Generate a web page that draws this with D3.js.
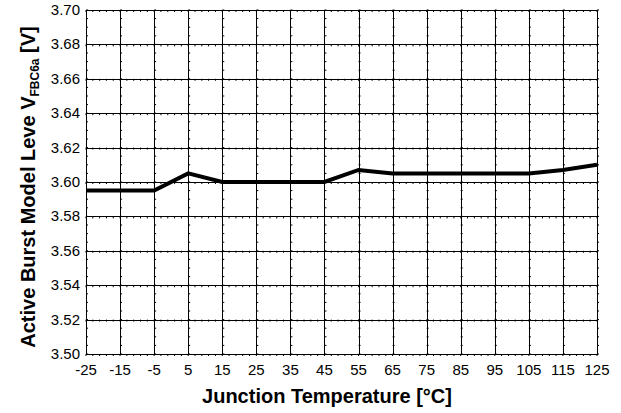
<!DOCTYPE html>
<html>
<head>
<meta charset="utf-8">
<script src="https://cdn.jsdelivr.net/npm/d3@7"></script>
<style>
body { margin: 0; background: #fff; }
text { font-family: "Liberation Sans", Arial, sans-serif; }
</style>
</head>
<body>
<div id="chart"></div>
<script>
// junction temperature (°C) and measured level (V)
var temps = [-25, -15, -5, 5, 15, 25, 35, 45, 55, 65, 75, 85, 95, 105, 115, 125];
var volts = [3.595, 3.595, 3.595, 3.605, 3.600, 3.600, 3.600, 3.600, 3.607, 3.605, 3.605, 3.605, 3.605, 3.605, 3.607, 3.610];
var yTicks = [3.50, 3.52, 3.54, 3.56, 3.58, 3.60, 3.62, 3.64, 3.66, 3.68, 3.70];

var width = 621, height = 413;
var margin = {top: 10, right: 24, bottom: 59, left: 86};
var w = width - margin.left - margin.right,
    h = height - margin.top - margin.bottom;

var svg = d3.select("#chart").append("svg")
  .attr("width", width)
  .attr("height", height);

var g = svg.append("g")
  .attr("transform", "translate(" + margin.left + "," + margin.top + ")");

var x = d3.scaleLinear().domain([-25, 125]).range([0, w]);
var y = d3.scaleLinear().domain([3.50, 3.70]).range([h, 0]);

// minor ticks along the grid lines
var minorX = d3.range(-25, 125.01, 2);
var minorY = d3.range(3.50, 3.7001, 0.005);

yTicks.forEach(function(v) {
  g.selectAll(null).data(minorX).enter().append("line")
    .attr("x1", function(d) { return x(d); })
    .attr("x2", function(d) { return x(d); })
    .attr("y1", y(v))
    .attr("y2", y(v) + 2)
    .attr("stroke", "#000")
    .attr("stroke-width", 1);
});
temps.forEach(function(t) {
  g.selectAll(null).data(minorY).enter().append("line")
    .attr("x1", x(t))
    .attr("x2", x(t) + 2)
    .attr("y1", function(d) { return y(d); })
    .attr("y2", function(d) { return y(d); })
    .attr("stroke", "#000")
    .attr("stroke-width", 1);
});

// grid
g.append("g")
  .attr("transform", "translate(0," + h + ")")
  .call(d3.axisBottom(x).tickValues(temps).tickSize(-h).tickFormat(""))
  .call(function(s) { s.select(".domain").remove(); })
  .selectAll("line").attr("stroke", "#000").attr("shape-rendering", "crispEdges");

g.append("g")
  .call(d3.axisLeft(y).tickValues(yTicks).tickSize(-w).tickFormat(""))
  .call(function(s) { s.select(".domain").remove(); })
  .selectAll("line").attr("stroke", "#000").attr("shape-rendering", "crispEdges");

g.append("rect")
  .attr("width", w).attr("height", h)
  .attr("fill", "none").attr("stroke", "#000")
  .attr("shape-rendering", "crispEdges");

// tick labels
g.selectAll(".xl").data(temps).enter().append("text")
  .attr("x", function(d) { return x(d); })
  .attr("y", h + 21)
  .attr("text-anchor", "middle")
  .style("font-size", "15px")
  .text(function(d) { return d; });

g.selectAll(".yl").data(yTicks).enter().append("text")
  .attr("x", -6)
  .attr("y", function(d) { return y(d) + 5; })
  .attr("text-anchor", "end")
  .style("font-size", "15px")
  .text(function(d) { return d.toFixed(2); });

// data line
var line = d3.line()
  .x(function(d, i) { return x(temps[i]); })
  .y(function(d) { return y(d); });

g.append("path")
  .datum(volts)
  .attr("d", line)
  .attr("fill", "none")
  .attr("stroke", "#000")
  .attr("stroke-width", 4);

// titles
svg.append("text")
  .attr("x", 327)
  .attr("y", 403)
  .attr("text-anchor", "middle")
  .style("font-size", "20px")
  .style("font-weight", "bold")
  .text("Junction Temperature [°C]");

var yt = svg.append("text")
  .attr("transform", "translate(35,187) rotate(-90)")
  .attr("text-anchor", "middle")
  .style("font-size", "20px")
  .style("font-weight", "bold");
yt.append("tspan").text("Active Burst Model Leve V");
yt.append("tspan").attr("dy", 4).style("font-size", "12px").text("FBC6a");
yt.append("tspan").attr("dy", -4).text(" [V]");
</script>
</body>
</html>
